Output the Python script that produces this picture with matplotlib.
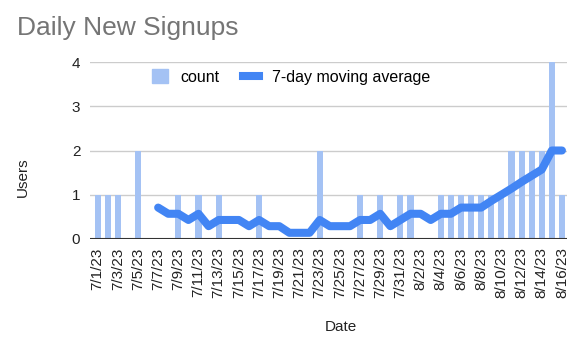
import numpy as np
import pandas as pd
import matplotlib
matplotlib.use("Agg")
import matplotlib.pyplot as plt
import matplotlib.patches as mpatches
from matplotlib.lines import Line2D

plt.rcParams["font.family"] = ["Liberation Sans", "DejaVu Sans"]

# Data (7/1/23 .. 8/16/23)
dates = pd.date_range("2023-07-01", "2023-08-16", freq="D")
date_labels = [f"{d.month}/{d.day}/{d.strftime('%y')}" for d in dates]

counts = [1, 1, 1, 0, 2, 0, 0,
          0, 1, 0, 1, 0, 1, 0,
          0, 0, 1, 0, 0, 0, 0,
          0, 2, 0, 0, 0, 1, 0,
          1, 0, 1, 1, 0, 0, 1,
          1, 1, 1, 1, 1, 1, 2,
          2, 2, 2, 4, 1]

moving_avg = [np.nan] * 6 + [
    0.71, 0.57, 0.57, 0.43, 0.57, 0.29, 0.43,
    0.43, 0.43, 0.29, 0.43, 0.29, 0.29, 0.14,
    0.14, 0.14, 0.43, 0.29, 0.29, 0.29, 0.43,
    0.43, 0.57, 0.29, 0.43, 0.57, 0.57, 0.43,
    0.57, 0.57, 0.71, 0.71, 0.71, 0.86, 1.00,
    1.14, 1.29, 1.43, 1.57, 2.00, 2.00]

y_ticks = [0, 1, 2, 3, 4]

bar_color = "#a4c2f4"
line_color = "#4285f4"

# ─── Figure ───
fig = plt.figure(figsize=(5.82, 3.56), dpi=100)
ax = fig.add_axes([90 / 582, 117 / 356, 477 / 582, 177 / 356])

x = np.arange(len(counts))
ax.bar(x, counts, width=0.6, color=bar_color, zorder=2)
ax.plot(x, moving_avg, color=line_color, linewidth=5.8,
        solid_capstyle="round", solid_joinstyle="round", zorder=3, clip_on=False)

ax.set_xlim(-0.75, len(counts) - 0.5)
ax.set_ylim(0, 4)
ax.set_yticks(y_ticks)
ax.set_yticklabels([str(v) for v in y_ticks], fontsize=11, color="#222222")
ax.set_xticks(x[::2])
ax.set_xticklabels(date_labels[::2], rotation=90, fontsize=11, color="#222222")
ax.tick_params(axis="both", length=0)
ax.tick_params(axis="y", pad=7)
ax.tick_params(axis="x", pad=6)

for v in y_ticks[1:]:
    ax.axhline(v, color="#cccccc", linewidth=1, zorder=1)
ax.axhline(0, color="#333333", linewidth=1.5, zorder=4)

for s in ax.spines.values():
    s.set_visible(False)

fig.text(17 / 582, 1 - 28 / 356, "Daily New Signups", fontsize=19,
         color="#757575", ha="left", va="center")
fig.text(23 / 582, 1 - 177 / 356, "Users", fontsize=11, rotation=90,
         ha="center", va="center", color="#222222")
fig.text(341 / 582, 1 - 327 / 356, "Date", fontsize=11,
         ha="center", va="center", color="#222222")

handles = [mpatches.Patch(color=bar_color),
           Line2D([0], [0], color=line_color, linewidth=5.8)]
fig.legend(handles, ["count", "7-day moving average"], loc="center",
           bbox_to_anchor=(291 / 582, 1 - 77 / 356), ncol=2, frameon=False,
           fontsize=11.5, handlelength=1.0, handleheight=1.0,
           handletextpad=0.8, columnspacing=1.5)

fig.savefig("out.png", dpi=100)
